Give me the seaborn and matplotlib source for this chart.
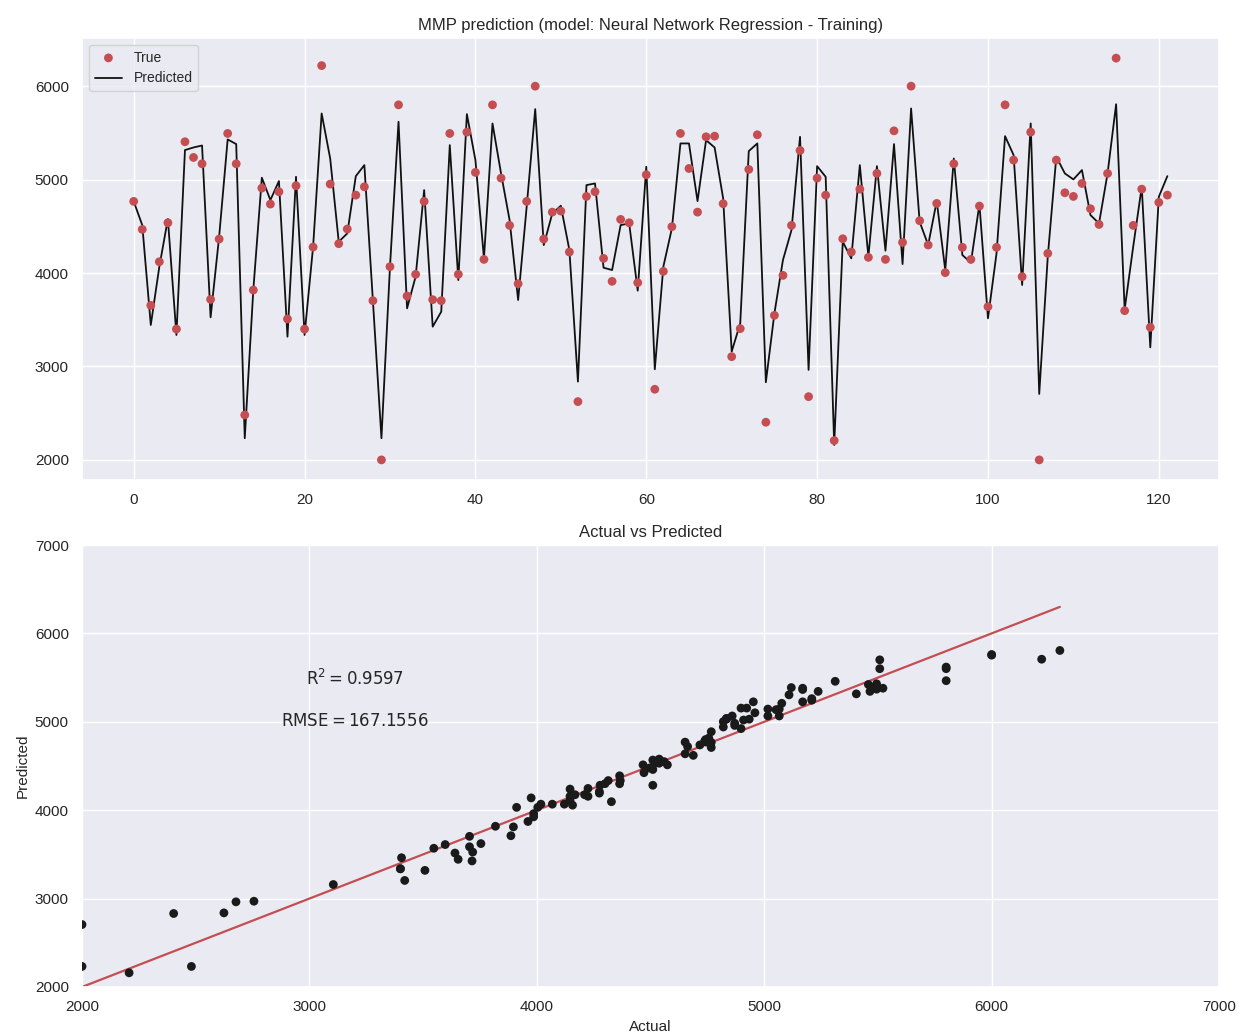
import numpy as np
import pandas as pd
import matplotlib
matplotlib.use("Agg")
import matplotlib.pyplot as plt
import seaborn as sns

# ---- data ----
true_vals = [
    4767, 4467, 3654, 4121, 4538, 3400, 5405, 5237, 5169, 3718,
    4364, 5494, 5169, 2481, 3818, 4909, 4738, 4870, 3508, 4934,
    3400, 4278, 6220, 4952, 4314, 4471, 4834, 4923, 3704, 2000,
    4068, 5800, 3754, 3986, 4767, 3715, 3704, 5494, 3986, 5508,
    5077, 4146, 5800, 5016, 4510, 3886, 4767, 6000, 4364, 4652,
    4663, 4225, 2624, 4820, 4870, 4157, 3911, 4574, 4538, 3897,
    5052, 2756, 4018, 4496, 5494, 5119, 4652, 5458, 5465, 4742,
    3105, 3405, 5109, 5480, 2403, 3547, 3975, 4510, 5312, 2677,
    5016, 4834, 2207, 4367, 4225, 4898, 4168, 5066, 4146, 5522,
    4328, 6000, 4560, 4300, 4745, 4004, 5169, 4275, 4146, 4717,
    3640, 4275, 5800, 5209, 3961, 5508, 2000, 4210, 5209, 4859,
    4820, 4959, 4688, 4520, 5066, 6300, 3597, 4510, 4898, 3419,
    4756, 4834,
]
pred_vals = [
    4767, 4513, 3444, 4068, 4578, 3337, 5316, 5344, 5365, 3526,
    4389, 5430, 5380, 2232, 3818, 5020, 4781, 4984, 3319, 5030,
    3337, 4282, 5708, 5226, 4335, 4424, 5037, 5155, 3704, 2232,
    4068, 5619, 3622, 3961, 4888, 3426, 3586, 5369, 3925, 5701,
    5209, 4157, 5601, 5066, 4567, 3711, 4709, 5754, 4299, 4638,
    4720, 4246, 2838, 4941, 4959, 4057, 4032, 4513, 4531, 3811,
    5137, 2970, 4068, 4478, 5387, 5387, 4770, 5422, 5344, 4799,
    3159, 3462, 5305, 5387, 2831, 3569, 4139, 4460, 5458, 2963,
    5144, 5030, 2160, 4335, 4157, 5155, 4175, 5144, 4239, 5380,
    4096, 5761, 4549, 4300, 4770, 4032, 5226, 4193, 4111, 4738,
    3515, 4210, 5465, 5262, 3872, 5601, 2706, 4175, 5244, 5066,
    5002, 5102, 4620, 4531, 5066, 5807, 3611, 4282, 4923, 3205,
    4816, 5037,
]
title_top = "MMP prediction (model: Neural Network Regression - Training)"
title_bottom = "Actual vs Predicted"
r2_text = r"$\mathrm{R}^2 = 0.9597$"
rmse_text = r"$\mathrm{RMSE} = 167.1556$"

# ---- style ----
sns.set_theme(style="darkgrid", color_codes=True)
plt.rcParams["font.family"] = ["Liberation Sans", "DejaVu Sans"]
plt.rcParams["mathtext.fontset"] = "dejavusans"

idx = np.arange(len(true_vals))
df = pd.DataFrame({"idx": idx, "true": true_vals, "pred": pred_vals})

fig = plt.figure(figsize=(12.39, 10.34), dpi=100)
ax1 = fig.add_axes([0.0662, 0.5358, 0.9177, 0.4274])
ax2 = fig.add_axes([0.0662, 0.0455, 0.9177, 0.4274])

# top panel
sns.scatterplot(data=df, x="idx", y="true", ax=ax1, color="r", s=40,
                edgecolor="none", label="True", zorder=3)
sns.lineplot(data=df, x="idx", y="pred", ax=ax1, color="#111111",
             linewidth=1.3, label="Predicted", zorder=2)
ax1.set_title(title_top, fontsize=12)
ax1.set_xlabel("")
ax1.set_ylabel("")
ax1.set_xticks(np.arange(0, 121, 20))
ax1.set_yticks(np.arange(2000, 6001, 1000))
ax1.tick_params(labelsize=11)
ax1.legend(loc="upper left", fontsize=10, frameon=True,
           facecolor="#EAEAF2", edgecolor="#cccccc")

# bottom panel
sns.scatterplot(data=df, x="true", y="pred", ax=ax2, color="k", s=40,
                edgecolor="none", zorder=3)
line_x = [min(true_vals), max(true_vals)]
sns.lineplot(x=line_x, y=line_x, ax=ax2, color="r", linewidth=1.6, zorder=2)
ax2.set_xlim(2000, 7000)
ax2.set_ylim(2000, 7000)
ax2.set_title(title_bottom, fontsize=12)
ax2.set_xlabel("Actual", fontsize=11)
ax2.set_ylabel("Predicted", fontsize=11)
ax2.tick_params(labelsize=11)
ax2.text(3200, 5500, r2_text, ha="center", va="center", fontsize=12,
         color="#262626")
ax2.text(3200, 5010, rmse_text, ha="center", va="center", fontsize=12,
         color="#262626")

fig.savefig("out.png", dpi=100)
